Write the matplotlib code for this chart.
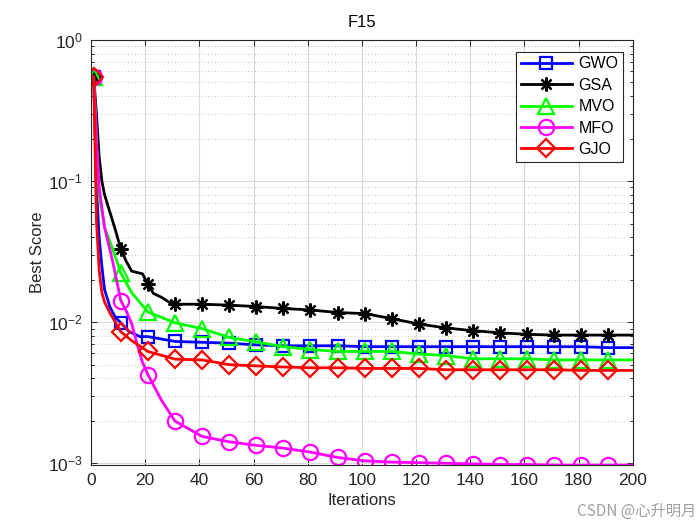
import matplotlib
matplotlib.use("Agg")
import matplotlib.pyplot as plt
from matplotlib.ticker import LogLocator, NullFormatter, MultipleLocator

plt.rcParams['font.family'] = ['Liberation Sans', 'Noto Sans CJK SC', 'DejaVu Sans']
plt.rcParams['mathtext.fontset'] = 'custom'
plt.rcParams['mathtext.rm'] = 'Liberation Sans'
plt.rcParams['mathtext.it'] = 'Liberation Sans'
plt.rcParams['mathtext.default'] = 'regular'

# ---- data (iteration, best score) ----
gwo_it = [1, 2, 3, 4, 5, 7, 9, 11, 14, 18, 21, 31, 41, 51, 61, 71, 81, 91, 101, 111, 121, 131, 141, 151, 161, 171, 181, 191, 200]
gwo_val = [0.55, 0.09, 0.040, 0.025, 0.017, 0.0128, 0.0108, 0.0099, 0.0086, 0.0079, 0.0079, 0.0073, 0.0072, 0.0071, 0.0069, 0.0068, 0.0068, 0.0068, 0.0067, 0.0067, 0.0067, 0.0067, 0.0067, 0.0067, 0.0067, 0.0067, 0.0067, 0.0066, 0.0066]

gsa_it = [1, 2, 3, 4, 5, 7, 9, 11, 13, 15, 19, 21, 23, 26, 29, 31, 41, 51, 61, 71, 81, 91, 101, 111, 121, 131, 141, 151, 161, 171, 181, 191, 200]
gsa_val = [0.55, 0.30, 0.15, 0.10, 0.080, 0.060, 0.045, 0.033, 0.027, 0.023, 0.022, 0.0186, 0.016, 0.0150, 0.0138, 0.0134, 0.0134, 0.0132, 0.0129, 0.0125, 0.0122, 0.0117, 0.0115, 0.0106, 0.0097, 0.0091, 0.0087, 0.0084, 0.0082, 0.0081, 0.0081, 0.0081, 0.0081]

mvo_it = [1, 2, 3, 5, 8, 11, 15, 21, 31, 41, 51, 61, 71, 81, 91, 101, 111, 121, 131, 141, 151, 161, 171, 181, 191, 200]
mvo_val = [0.55, 0.20, 0.080, 0.047, 0.033, 0.0223, 0.0162, 0.0118, 0.0099, 0.0090, 0.0078, 0.00725, 0.0067, 0.0064, 0.0062, 0.0062, 0.0062, 0.00595, 0.0058, 0.0055, 0.0055, 0.0055, 0.0054, 0.0054, 0.0054, 0.0054]

mfo_it = [1, 2, 3, 5, 8, 11, 13, 15, 17, 19, 21, 26, 31, 41, 51, 61, 71, 81, 91, 101, 111, 121, 131, 141, 151, 161, 171, 181, 191, 200]
mfo_val = [0.55, 0.20, 0.09, 0.047, 0.027, 0.0142, 0.0120, 0.0098, 0.0070, 0.0052, 0.00425, 0.0028, 0.00199, 0.00155, 0.00142, 0.00134, 0.00128, 0.00120, 0.00110, 0.00104, 0.00102, 0.00101, 0.00100, 0.00099, 0.00098, 0.00098, 0.00097, 0.00097, 0.00097, 0.00097]

gjo_it = [1, 2, 3, 4, 5, 7, 9, 11, 15, 21, 31, 41, 51, 61, 71, 81, 91, 101, 111, 121, 131, 141, 151, 161, 171, 181, 191, 200]
gjo_val = [0.55, 0.053, 0.0235, 0.0162, 0.0139, 0.0116, 0.0100, 0.00855, 0.0074, 0.0062, 0.00547, 0.0054, 0.0050, 0.0049, 0.00481, 0.00475, 0.00475, 0.0047, 0.0047, 0.0047, 0.0046, 0.0046, 0.0046, 0.0046, 0.0046, 0.00455, 0.00455, 0.00455]

names = ['GWO', 'GSA', 'MVO', 'MFO', 'GJO']
marker_iters = list(range(1, 200, 10))

series = [
    (gwo_it, gwo_val, names[0], (0, 0, 1), 's', 8),
    (gsa_it, gsa_val, names[1], (0, 0, 0), (8, 2, 0), 10),
    (mvo_it, mvo_val, names[2], (0, 1, 0), '^', 11),
    (mfo_it, mfo_val, names[3], (1, 0, 1), 'o', 11),
    (gjo_it, gjo_val, names[4], (1, 0, 0), 'D', 9),
]

fig = plt.figure(figsize=(7, 5.25), dpi=100)
ax = fig.add_axes([0.13, 0.114, 0.774, 0.810])

for it, val, name, col, mk, ms in series:
    idx = [i for i, v in enumerate(it) if v in marker_iters]
    ax.semilogy(it, val, color=col, lw=2, marker=mk, markevery=idx,
                markersize=ms, markerfacecolor='none', markeredgecolor=col,
                markeredgewidth=1.6, label=name)

ax.set_xlim(0, 200)
ax.set_ylim(0.00097, 1)
ax.xaxis.set_major_locator(MultipleLocator(20))
ax.yaxis.set_major_locator(LogLocator(base=10, numticks=10))
ax.yaxis.set_minor_locator(LogLocator(base=10, subs=range(2, 10), numticks=10))
ax.yaxis.set_minor_formatter(NullFormatter())

ax.grid(True, which='major', color='#d9d9d9', lw=0.8, ls='-')
ax.grid(True, which='minor', axis='y', color='#b0b0b0', lw=0.6, ls=(0, (1, 3)))
ax.set_axisbelow(True)

ax.tick_params(which='both', direction='in', top=True, right=True, labelsize=12.5,
               colors='#262626', width=0.7)
ax.tick_params(which='major', length=4, pad=6)
ax.tick_params(which='minor', length=2)
for sp in ax.spines.values():
    sp.set_color('#262626')
    sp.set_linewidth(0.8)

ax.set_xlabel('Iterations', fontsize=12, color='#262626', labelpad=3)
ax.set_ylabel('Best Score', fontsize=12, color='#262626', labelpad=2)
ax.set_title('F15', fontsize=12, color='#000000', pad=9)

leg = ax.legend(loc='upper right', bbox_to_anchor=(0.988, 0.98), fontsize=11.5,
                fancybox=False, framealpha=1, edgecolor='#262626',
                handlelength=3.2, borderpad=0.3, labelspacing=0.40,
                handletextpad=0.4, borderaxespad=0.2)
leg.get_frame().set_linewidth(0.8)

fig.text(0.995, 0.01, 'CSDN @心升明月', ha='right', va='bottom', fontsize=11,
         color='#a0a0a0', family=['Noto Sans CJK SC', 'DejaVu Sans'])

fig.savefig('out.png', dpi=100)
